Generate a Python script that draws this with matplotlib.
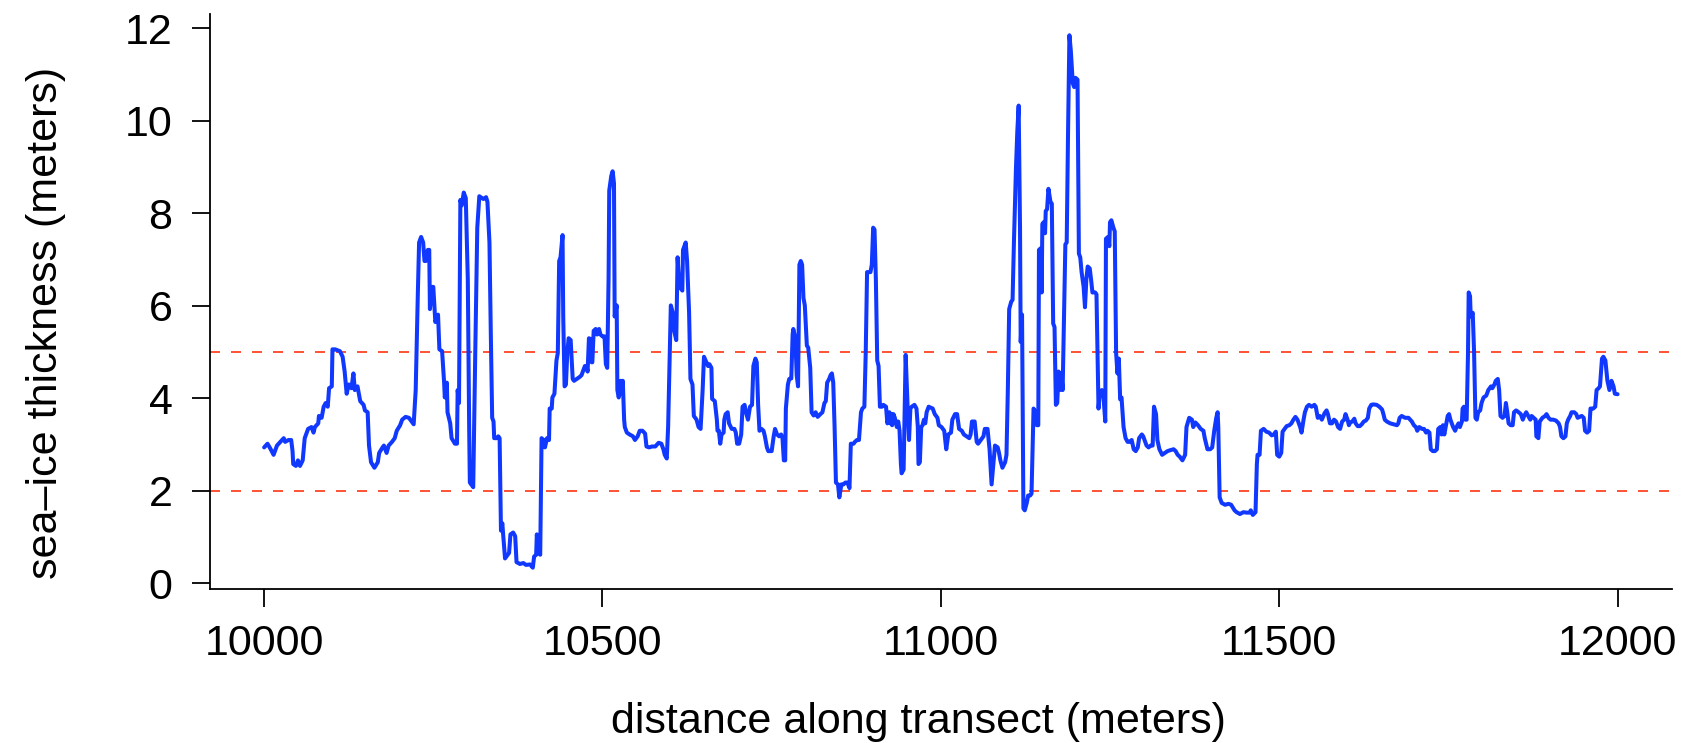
import matplotlib
matplotlib.use("Agg")
import matplotlib.pyplot as plt

# distance along transect (m)
distance = [
    10000, 10005, 10009, 10014, 10019, 10024, 10029, 10031, 10036, 10040, 10042, 10043, 10047, 10050, 10053, 10057,
    10060, 10065, 10070, 10073, 10075, 10080, 10081, 10085, 10088, 10091, 10094, 10096, 10100, 10101, 10105, 10112,
    10116, 10119, 10122, 10125, 10129, 10132, 10134, 10138, 10142, 10147, 10149, 10153, 10155, 10158, 10163, 10168,
    10170, 10175, 10177, 10181, 10184, 10189, 10193, 10196, 10201, 10204, 10209, 10214, 10218, 10221, 10224, 10227,
    10229, 10232, 10235, 10237, 10239, 10242, 10244, 10245, 10248, 10250, 10253, 10257, 10259, 10263, 10266, 10267,
    10270, 10271, 10275, 10277, 10282, 10285, 10286, 10288, 10290, 10292, 10295, 10298, 10301, 10303, 10304, 10309,
    10312, 10315, 10318,
    10324, 10328, 10330, 10333, 10335, 10337, 10339, 10340, 10344, 10346, 10348, 10350, 10352, 10353, 10356, 10358,
    10362, 10364, 10368, 10371, 10373, 10378, 10383, 10387, 10393, 10397, 10399, 10402, 10403, 10405, 10408, 10410,
    10413, 10415, 10418, 10421, 10422, 10425, 10426, 10429, 10432, 10434, 10436, 10438, 10441, 10442, 10444, 10446,
    10448, 10450, 10453, 10456, 10458, 10462, 10466, 10469, 10472, 10474, 10477, 10478, 10480, 10483, 10484, 10485,
    10487, 10490, 10492, 10495, 10497, 10500, 10503, 10505, 10507, 10509, 10510, 10513, 10515, 10517, 10518, 10521,
    10522, 10524, 10527, 10529, 10530, 10532, 10533, 10536, 10540, 10545, 10548, 10552, 10555, 10559, 10563, 10565,
    10569, 10573, 10578, 10583, 10587, 10590, 10592, 10595, 10597, 10599, 10601, 10604, 10606, 10609, 10611, 10613,
    10616, 10618, 10619, 10623, 10625, 10628, 10630, 10633, 10635, 10639, 10642, 10645, 10648, 10650,
    10653, 10656, 10658, 10661, 10662, 10666, 10669, 10670, 10672, 10674, 10676, 10679, 10680, 10682, 10685, 10687,
    10691, 10695, 10697, 10699, 10702, 10705, 10707, 10710, 10712, 10715, 10718, 10721, 10723, 10726, 10728, 10730,
    10732, 10735, 10738, 10740, 10743, 10745, 10750, 10753, 10755, 10758, 10761, 10764, 10766, 10768, 10770, 10771,
    10774, 10776, 10779, 10781, 10782, 10785, 10787, 10789, 10791, 10793, 10795, 10797, 10799, 10802, 10804, 10807,
    10809, 10812, 10815, 10818, 10822, 10825, 10828, 10830, 10832, 10835, 10837, 10839, 10841, 10843, 10845, 10848,
    10850, 10853, 10856, 10859, 10862, 10865, 10867, 10871, 10873, 10876, 10879, 10882, 10884, 10887, 10889, 10891,
    10894, 10896, 10898, 10900, 10902, 10904, 10906, 10908, 10910, 10913, 10915, 10919, 10921, 10924, 10925, 10927,
    10928, 10930, 10932, 10935, 10937, 10939, 10941, 10942, 10945, 10948, 10951, 10953, 10955, 10957, 10961, 10964,
    10966, 10967, 10969, 10971, 10973, 10975, 10977, 10979, 10982,
    10988, 10991, 10995, 10997, 11001, 11005, 11008, 11011, 11015, 11017, 11021, 11024, 11027, 11031, 11034, 11038,
    11042, 11044, 11046, 11050, 11053, 11055, 11059, 11063, 11065, 11069, 11072, 11075, 11078, 11080, 11084, 11086,
    11088, 11091, 11095, 11097, 11099, 11101, 11104, 11106, 11108, 11111, 11113, 11115, 11117, 11118, 11120, 11122,
    11124, 11127, 11129, 11132, 11134, 11137, 11140, 11142, 11144, 11145, 11148, 11149, 11150, 11152, 11154, 11155,
    11157, 11159, 11162, 11164, 11166, 11168, 11170, 11172, 11174, 11176, 11178, 11180, 11182, 11184, 11186, 11188,
    11190, 11192, 11195, 11197, 11199, 11202, 11204, 11206, 11208, 11211, 11213, 11215, 11217, 11220, 11222, 11224,
    11228, 11230, 11233, 11235, 11238, 11240, 11243, 11244, 11247, 11249, 11250, 11252, 11255, 11257, 11259, 11261,
    11263, 11265, 11267, 11270, 11273, 11276, 11279, 11282, 11285, 11288, 11291, 11293, 11297, 11299, 11302, 11304,
    11307, 11310, 11313, 11315, 11318, 11320, 11323,
    11327, 11331, 11335, 11339, 11344, 11347, 11350, 11353, 11357, 11361, 11363, 11367, 11371, 11373, 11376, 11380,
    11384, 11388, 11390, 11394, 11398, 11401, 11404, 11407, 11409, 11410, 11412, 11415, 11420, 11425, 11429, 11434,
    11437, 11442, 11447, 11452, 11456, 11458, 11461, 11465, 11467, 11468, 11471, 11473, 11477, 11481, 11485, 11489,
    11492, 11495, 11497, 11500, 11503, 11505, 11508, 11511, 11515, 11518, 11521, 11524, 11527, 11531, 11533, 11536,
    11538, 11541, 11544, 11548, 11552, 11554, 11557, 11560, 11563, 11567, 11570, 11572, 11575, 11578, 11581, 11584,
    11587, 11590, 11593, 11596, 11598, 11601, 11603, 11605, 11608, 11611, 11613, 11616, 11619, 11622, 11625, 11628,
    11631, 11633, 11636, 11639, 11644, 11648,
    11652, 11654, 11656, 11659, 11664, 11669, 11674, 11676, 11678, 11681, 11686, 11691, 11696, 11699, 11702, 11704,
    11707, 11711, 11714, 11717, 11719, 11722, 11724, 11727, 11730, 11733, 11735, 11738, 11740, 11742, 11744, 11746,
    11749, 11751, 11753, 11755, 11757, 11760, 11762, 11765, 11767, 11770, 11771, 11773, 11775, 11777, 11779, 11780,
    11782, 11783, 11786, 11788, 11790, 11792, 11794, 11797, 11799, 11802, 11806, 11809, 11813, 11815, 11818, 11820,
    11823, 11825, 11827, 11830, 11833, 11835, 11837, 11839, 11842, 11845, 11847, 11850, 11853, 11857, 11860, 11862,
    11865, 11868, 11871, 11873, 11876, 11879, 11880, 11883, 11885, 11889, 11893, 11895, 11898, 11901, 11905, 11909,
    11913, 11915, 11917, 11920, 11923, 11925, 11927, 11930, 11932, 11936, 11939, 11941, 11944, 11947, 11950, 11952,
    11955, 11958, 11960, 11964, 11967, 11969, 11972, 11974, 11977, 11979, 11982, 11985, 11988, 11991, 11994, 11996,
    12000,
]

# sea-ice thickness (m)
thickness = [
    2.94, 3.02, 2.92, 2.78, 2.98, 3.06, 3.14, 3.06, 3.10, 3.10, 2.86, 2.58, 2.54, 2.66, 2.54, 2.66,
    3.14, 3.34, 3.38, 3.26, 3.38, 3.46, 3.62, 3.58, 3.82, 3.90, 3.82, 4.22, 4.26, 5.06, 5.06, 5.02,
    4.90, 4.58, 4.10, 4.30, 4.22, 4.54, 4.18, 4.26, 3.94, 3.86, 3.74, 3.70, 2.98, 2.62, 2.50, 2.62,
    2.82, 2.94, 2.98, 2.82, 2.98, 3.06, 3.14, 3.30, 3.42, 3.54, 3.60, 3.58, 3.50, 3.44, 4.18, 6.17,
    7.37, 7.49, 7.37, 6.97, 6.97, 7.21, 7.21, 5.93, 6.41, 6.41, 5.65, 5.81, 5.06, 5.02, 4.34, 4.02,
    4.34, 3.70, 3.46, 3.14, 3.02, 3.02, 4.18, 3.90, 8.29, 8.17, 8.45, 8.33, 6.57, 3.38, 2.18, 2.08,
    4.98, 7.69, 8.37,
    8.31, 8.35, 8.25, 7.37, 5.38, 3.58, 3.50, 3.14, 3.14, 3.18, 3.14, 1.14, 1.30, 1.10, 0.54, 0.58,
    0.66, 1.06, 1.10, 1.02, 0.46, 0.42, 0.44, 0.40, 0.41, 0.34, 0.58, 0.62, 1.06, 0.66, 0.62, 3.14,
    3.10, 2.94, 3.14, 3.10, 3.78, 3.78, 4.02, 4.10, 4.82, 4.98, 6.97, 7.05, 7.53, 5.77, 4.26, 4.30,
    4.98, 5.30, 5.26, 4.42, 4.38, 4.42, 4.46, 4.50, 4.62, 4.70, 4.66, 4.58, 5.30, 5.28, 4.78, 4.78,
    5.46, 5.50, 5.38, 5.50, 5.38, 5.34, 5.34, 4.74, 4.66, 6.57, 8.49, 8.81, 8.91, 8.65, 5.77, 6.01,
    4.18, 4.02, 4.38, 4.10, 4.38, 3.54, 3.38, 3.26, 3.22, 3.18, 3.10, 3.18, 3.30, 3.30, 3.24, 2.96,
    2.94, 2.96, 2.96, 3.04, 3.02, 2.90, 2.78, 2.70, 3.38, 4.74, 6.01, 5.85, 5.46, 5.26, 7.05, 6.57,
    6.37, 6.33, 7.21, 7.37, 6.97, 5.85, 4.42, 4.30, 3.62, 3.54, 3.38, 3.34, 4.18, 4.90,
    4.80, 4.70, 4.74, 4.66, 3.99, 3.94, 3.54, 3.30, 3.30, 3.02, 3.22, 3.26, 3.54, 3.66, 3.70, 3.46,
    3.34, 3.34, 3.26, 3.02, 3.02, 3.22, 3.82, 3.86, 3.70, 3.54, 3.82, 3.86, 4.70, 4.86, 4.78, 3.86,
    3.30, 3.34, 3.30, 3.18, 2.94, 2.86, 2.86, 3.18, 3.34, 3.22, 3.18, 3.22, 3.14, 2.66, 2.66, 3.78,
    4.30, 4.42, 4.43, 5.38, 5.50, 5.30, 4.50, 4.26, 6.89, 6.97, 6.89, 6.17, 6.01, 5.14, 5.10, 4.66,
    3.70, 3.63, 3.70, 3.60, 3.66, 3.70, 3.90, 3.94, 4.34, 4.42, 4.50, 4.54, 4.34, 3.38, 2.18, 2.14,
    1.86, 2.14, 2.14, 2.18, 2.18, 2.06, 3.02, 3.02, 3.06, 3.10, 3.10, 3.70, 3.78, 3.82, 4.98, 6.73,
    6.73, 6.73, 6.89, 7.69, 7.65, 6.57, 4.82, 4.70, 3.82, 3.82, 3.86, 3.82, 3.46, 3.70, 3.46, 3.66,
    3.42, 3.66, 3.58, 3.38, 3.50, 3.30, 2.58, 2.38, 2.46, 4.94, 3.78, 3.10, 3.78, 3.82, 3.86, 3.78,
    3.38, 2.58, 2.62, 3.38, 3.42, 3.54, 3.46, 3.70, 3.82,
    3.78, 3.66, 3.58, 3.42, 3.38, 3.30, 2.90, 3.22, 3.26, 3.54, 3.66, 3.66, 3.34, 3.30, 3.22, 3.18,
    3.14, 3.22, 3.50, 3.50, 3.06, 3.02, 3.10, 3.18, 3.34, 3.34, 2.90, 2.14, 2.66, 2.98, 2.94, 2.82,
    2.66, 2.50, 2.62, 2.78, 4.18, 5.93, 6.09, 6.13, 7.37, 8.97, 9.77, 10.33, 7.69, 5.22, 5.81, 1.62,
    1.58, 1.74, 1.90, 1.90, 1.94, 3.78, 3.70, 3.42, 3.42, 7.21, 7.25, 6.29, 7.77, 7.81, 7.57, 8.05,
    8.09, 8.53, 8.25, 8.21, 5.62, 5.54, 3.86, 3.90, 4.58, 4.18, 4.54, 4.18, 5.77, 7.33, 7.37, 9.77,
    11.85, 11.53, 10.81, 10.73, 10.93, 10.89, 7.13, 7.05, 6.73, 6.41, 5.97, 6.57, 6.85, 6.81, 6.57, 6.29,
    6.29, 6.25, 3.78, 4.14, 4.18, 4.10, 3.50, 7.45, 7.49, 7.29, 7.81, 7.85, 7.69, 7.61, 4.98, 4.54,
    4.86, 3.98, 4.02, 3.38, 3.14, 3.06, 3.06, 3.10, 2.90, 2.86, 2.94, 3.14, 3.22, 3.18, 3.06, 2.98,
    2.94, 2.98, 2.98, 3.82, 3.66, 3.10, 2.90,
    2.78, 2.82, 2.86, 2.88, 2.90, 2.86, 2.78, 2.74, 2.66, 2.78, 3.38, 3.58, 3.54, 3.38, 3.48, 3.42,
    3.34, 3.30, 3.14, 2.90, 2.90, 2.94, 3.30, 3.58, 3.70, 3.38, 1.86, 1.74, 1.70, 1.72, 1.70, 1.58,
    1.54, 1.50, 1.54, 1.53, 1.53, 1.58, 1.48, 1.54, 2.58, 2.78, 2.78, 3.30, 3.34, 3.28, 3.26, 3.20,
    3.22, 3.28, 2.78, 2.74, 2.82, 3.28, 3.34, 3.40, 3.42, 3.46, 3.54, 3.60, 3.54, 3.38, 3.26, 3.54,
    3.70, 3.82, 3.86, 3.82, 3.86, 3.82, 3.58, 3.62, 3.54, 3.68, 3.74, 3.66, 3.46, 3.46, 3.54, 3.50,
    3.38, 3.34, 3.50, 3.54, 3.66, 3.54, 3.42, 3.48, 3.50, 3.56, 3.46, 3.40, 3.40, 3.44, 3.50, 3.52,
    3.58, 3.78, 3.86, 3.87, 3.86, 3.82,
    3.76, 3.66, 3.54, 3.50, 3.46, 3.44, 3.42, 3.46, 3.58, 3.62, 3.58, 3.58, 3.50, 3.42, 3.38, 3.30,
    3.38, 3.34, 3.34, 3.26, 3.30, 3.26, 2.90, 2.86, 2.86, 2.90, 3.34, 3.38, 3.22, 3.42, 3.22, 3.38,
    3.62, 3.66, 3.54, 3.46, 3.38, 3.30, 3.38, 3.46, 3.38, 3.50, 3.78, 3.82, 3.54, 3.54, 4.98, 6.29,
    6.21, 5.77, 5.85, 4.98, 3.58, 3.54, 3.70, 3.74, 3.90, 4.02, 4.06, 4.18, 4.26, 4.22, 4.30, 4.38,
    4.42, 4.18, 3.62, 3.58, 3.62, 3.90, 3.70, 3.46, 3.42, 3.42, 3.70, 3.74, 3.71, 3.66, 3.54, 3.62,
    3.70, 3.62, 3.54, 3.62, 3.58, 3.54, 3.18, 3.14, 3.50, 3.58, 3.62, 3.66, 3.58, 3.54, 3.54, 3.52,
    3.46, 3.38, 3.18, 3.14, 3.18, 3.46, 3.54, 3.62, 3.70, 3.70, 3.66, 3.58, 3.60, 3.62, 3.58, 3.30,
    3.26, 3.30, 3.78, 3.78, 3.82, 4.18, 4.22, 4.26, 4.86, 4.90, 4.82, 4.38, 4.18, 4.38, 4.26, 4.10,
    4.09,
]

thresholds = [2, 5]
x_ticks = [10000, 10500, 11000, 11500, 12000]
y_ticks = [0, 2, 4, 6, 8, 10, 12]
x_label = "distance along transect (meters)"
y_label = "sea\u2013ice thickness (meters)"

plt.rcParams['font.family'] = ['Liberation Sans', 'DejaVu Sans']
FS = 31

fig = plt.figure(figsize=(16.92, 7.43), dpi=100)
ax = fig.add_axes([0.1241, 0.2073, 0.8639, 0.7739])

ax.plot(distance, thickness, color='#1038FF', lw=2.9, solid_joinstyle='round',
        solid_capstyle='round', zorder=3)
for t in thresholds:
    ax.axhline(t, color='#FF3311', lw=1.2, linestyle=(0, (6.0, 6.6)), zorder=2)

# R-style 4% axis extension
xmin, xmax = min(distance), max(distance)
ymin, ymax = min(thickness), max(thickness)
ax.set_xlim(xmin - 0.04 * (xmax - xmin), xmax + 0.04 * (xmax - xmin))
ax.set_ylim(ymin - 0.04 * (ymax - ymin), ymax + 0.04 * (ymax - ymin))

ax.set_xticks(x_ticks)
ax.set_yticks(y_ticks)
ax.set_xticklabels([str(v) for v in x_ticks])
ax.set_yticklabels([str(v) for v in y_ticks])

for s in ['top', 'right']:
    ax.spines[s].set_visible(False)
for s in ['left', 'bottom']:
    ax.spines[s].set_linewidth(1.3)
    ax.spines[s].set_color('black')

ax.tick_params(axis='both', direction='out', length=13, width=1.3, labelsize=FS, colors='black')
ax.tick_params(axis='y', pad=14)
ax.tick_params(axis='x', pad=12)

ax.set_xlabel(x_label, fontsize=FS)
ax.set_ylabel(y_label, fontsize=FS)
ax.xaxis.set_label_coords(0.485, -0.1965)
ax.yaxis.set_label_coords(-0.0985, 0.4626)

fig.savefig("out.png", dpi=100)
